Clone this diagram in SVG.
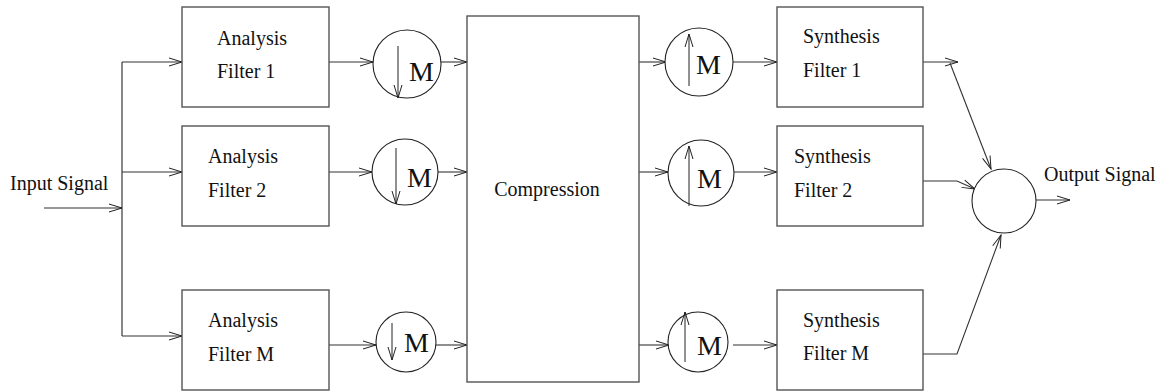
<svg xmlns="http://www.w3.org/2000/svg" width="1166" height="391" viewBox="0 0 1166 391">
<defs>
<marker id="ah" markerUnits="userSpaceOnUse" markerWidth="14" markerHeight="10" refX="13" refY="4" orient="auto" overflow="visible">
<path d="M0,0 L13,4 L0,8" fill="none" stroke="#222" stroke-width="1"/>
</marker>
</defs>
<style>
.box{fill:#fff;stroke:#555;stroke-width:1.4}
.circ{fill:#fff;stroke:#222;stroke-width:1.1}
.t{font-size:20px;fill:#111}
.m{font-size:28px;fill:#111}
.c{fill:none;stroke:#333;stroke-width:1.1}
.bus{fill:none;stroke:#555;stroke-width:1.4}
.ar{marker-end:url(#ah)}
.inner{fill:none;stroke:#222;stroke-width:1}
</style>
<rect width="1166" height="391" fill="#fff"/>

<g id="connectors">
<path class="bus" d="M122,62 V336"/>
<path class="c ar" d="M44,208 H122"/>
<path class="c ar" d="M122,62 H182"/>
<path class="c ar" d="M122,172 H182"/>
<path class="c ar" d="M122,336 H182"/>
<path class="c ar" d="M329,62 H373"/>
<path class="c ar" d="M329,172 H372"/>
<path class="c ar" d="M329,345 H376"/>
<path class="c ar" d="M441,62 H467"/>
<path class="c ar" d="M438,172 H467"/>
<path class="c ar" d="M436,345 H467"/>
<path class="c ar" d="M639,62 H666"/>
<path class="c ar" d="M639,172 H668"/>
<path class="c ar" d="M639,345 H669"/>
<path class="c ar" d="M733,62 H777"/>
<path class="c ar" d="M734,172 H777"/>
<path class="c ar" d="M733,345 H777"/>
<path class="c ar" d="M923,62 H958"/>
<path class="c ar" d="M950,63 L991,169"/>
<path class="c ar" d="M923,181 H957 L975,189"/>
<path class="c ar" d="M923,354 H957 L1001,235"/>
<path class="c ar" d="M1036,200 H1070"/>
</g>

<g font-family="'Liberation Serif', 'Times New Roman', 'DejaVu Serif', serif">
<g id="input-label"><text class="t" x="10" y="190">Input Signal</text></g>

<g id="analysis1"><rect class="box" x="182" y="7" width="147" height="100"/><text class="t" x="217" y="45">Analysis</text><text class="t" x="217" y="78">Filter 1</text></g>
<g id="analysis2"><rect class="box" x="182" y="126" width="147" height="100"/><text class="t" x="208" y="163">Analysis</text><text class="t" x="208" y="197">Filter 2</text></g>
<g id="analysisM"><rect class="box" x="182" y="290" width="147" height="100"/><text class="t" x="208" y="327">Analysis</text><text class="t" x="208" y="361">Filter M</text></g>

<g id="down1"><circle class="circ" cx="407" cy="64" r="34"/><path class="inner ar" d="M398,46 V98"/><text class="m" x="409" y="81">M</text></g>
<g id="down2"><circle class="circ" cx="405" cy="172" r="33"/><path class="inner ar" d="M396,148 V204"/><text class="m" x="407" y="187">M</text></g>
<g id="downM"><circle class="circ" cx="406" cy="342" r="30"/><path class="inner ar" d="M392,323 V360"/><text class="m" x="404" y="352">M</text></g>

<g id="compression"><rect class="box" x="467" y="16" width="172" height="366"/><text class="t" x="547" y="196" text-anchor="middle">Compression</text></g>

<g id="up1"><circle class="circ" cx="699" cy="62" r="34"/><path class="inner ar" d="M689,86 V34"/><text class="m" x="696" y="74">M</text></g>
<g id="up2"><circle class="circ" cx="701" cy="173" r="33"/><path class="inner ar" d="M689,206 V146"/><text class="m" x="697" y="188">M</text></g>
<g id="upM"><circle class="circ" cx="698" cy="342" r="30"/><path class="inner ar" d="M685,362 V312"/><text class="m" x="697" y="355">M</text></g>

<g id="synthesis1"><rect class="box" x="777" y="7" width="146" height="100"/><text class="t" x="803" y="43">Synthesis</text><text class="t" x="803" y="77">Filter 1</text></g>
<g id="synthesis2"><rect class="box" x="777" y="126" width="146" height="100"/><text class="t" x="794" y="163">Synthesis</text><text class="t" x="794" y="197">Filter 2</text></g>
<g id="synthesisM"><rect class="box" x="777" y="290" width="146" height="100"/><text class="t" x="803" y="327">Synthesis</text><text class="t" x="803" y="360">Filter M</text></g>

<g id="sum"><circle class="circ" cx="1004" cy="201" r="32"/></g>
<g id="output-label"><text class="t" x="1044" y="181">Output Signal</text></g>
</g>
</svg>
